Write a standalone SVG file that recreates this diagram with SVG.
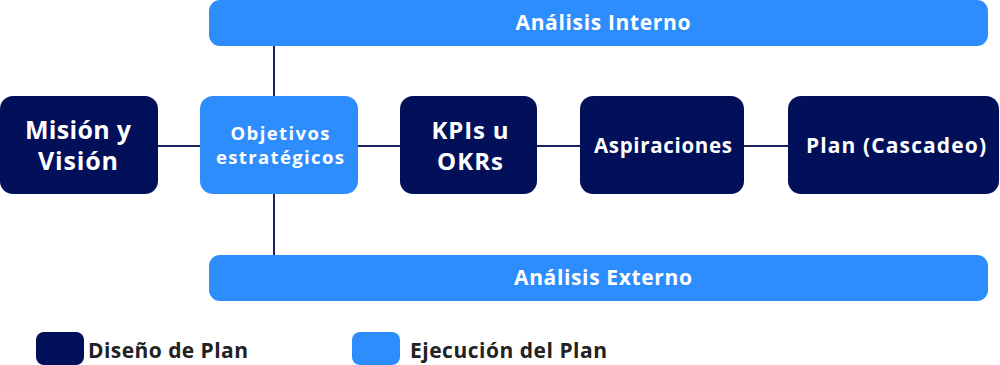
<svg xmlns="http://www.w3.org/2000/svg" width="1000" height="365" viewBox="0 0 1000 365">
<style>
.dark{fill:#021059}
.light{fill:#2e8dfd}
.t{font-family:"Open Sans","Liberation Sans",sans-serif;font-weight:700;fill:#ffffff;text-anchor:middle}
.lg{font-family:"Open Sans","Liberation Sans",sans-serif;font-weight:700;fill:#222222;font-size:21px}
.c{stroke:#1a2360;stroke-width:2;fill:none}
</style>
<rect width="1000" height="365" fill="#ffffff"/>
<g id="connectors">
<line class="c" x1="158" y1="146" x2="788" y2="146"/>
<line class="c" x1="274" y1="46" x2="274" y2="255"/>
</g>
<g id="analisis-interno">
<rect class="light" x="209" y="0" width="779" height="46" rx="11"/>
<text class="t" x="603" y="29.5" font-size="21" textLength="175" lengthAdjust="spacing">Análisis Interno</text>
</g>
<g id="analisis-externo">
<rect class="light" x="209" y="255" width="779" height="46" rx="11"/>
<text class="t" x="603" y="284.5" font-size="21" textLength="178" lengthAdjust="spacing">Análisis Externo</text>
</g>
<g id="mision">
<rect class="dark" x="0" y="96" width="158" height="98" rx="13"/>
<text class="t" x="78" y="139" font-size="25" textLength="106" lengthAdjust="spacing">Misión y</text>
<text class="t" x="78" y="170" font-size="25" textLength="80" lengthAdjust="spacing">Visión</text>
</g>
<g id="objetivos">
<rect class="light" x="200" y="96" width="158" height="98" rx="13"/>
<text class="t" x="280" y="140" font-size="18.5" textLength="99" lengthAdjust="spacing">Objetivos</text>
<text class="t" x="280" y="164" font-size="18.5" textLength="128" lengthAdjust="spacing">estratégicos</text>
</g>
<g id="kpis">
<rect class="dark" x="400" y="96" width="137" height="98" rx="13"/>
<text class="t" x="470" y="139" font-size="24" textLength="77" lengthAdjust="spacing">KPIs u</text>
<text class="t" x="470" y="170" font-size="24" textLength="66" lengthAdjust="spacing">OKRs</text>
</g>
<g id="aspiraciones">
<rect class="dark" x="580" y="96" width="164" height="98" rx="13"/>
<text class="t" x="663" y="153" font-size="20.5" textLength="138" lengthAdjust="spacing">Aspiraciones</text>
</g>
<g id="plan">
<rect class="dark" x="788" y="96" width="211" height="98" rx="13"/>
<text class="t" x="896" y="153" font-size="21" textLength="180" lengthAdjust="spacing">Plan (Cascadeo)</text>
</g>
<g id="legend-diseno">
<rect class="dark" x="36" y="332" width="48" height="33" rx="8"/>
<text class="lg" x="88" y="358" textLength="160" lengthAdjust="spacing">Diseño de Plan</text>
</g>
<g id="legend-ejecucion">
<rect class="light" x="352" y="332" width="48" height="33" rx="8"/>
<text class="lg" x="410" y="358" textLength="197" lengthAdjust="spacing">Ejecución del Plan</text>
</g>
</svg>
